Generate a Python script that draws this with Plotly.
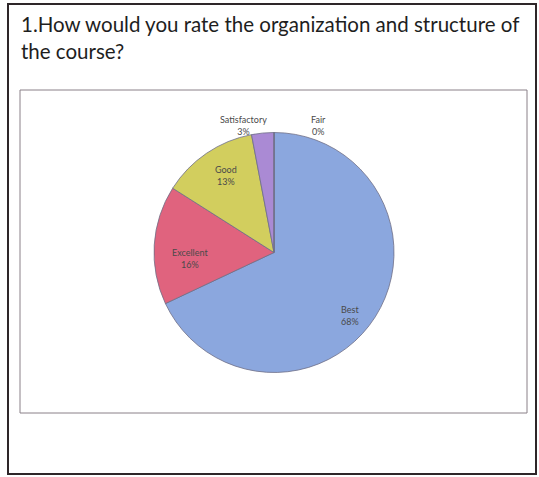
import plotly.graph_objects as go

# Survey answers
ratings = ["Best", "Excellent", "Good", "Satisfactory", "Fair"]
shares = [68, 16, 13, 3, 0]
slice_colors = ["#8BA7DE", "#E0637E", "#D2CE5E", "#AA8AD4", "#9BBB59"]

question = "1.How would you rate the organization and structure of<br>the course?"

W, H = 539, 477

fig = go.Figure(
    go.Pie(
        labels=ratings,
        values=shares,
        sort=False,
        direction="clockwise",
        rotation=0,
        textinfo="none",
        hoverinfo="label+percent",
        marker=dict(colors=slice_colors, line=dict(color="#6f6f86", width=0.8)),
        domain=dict(x=[154 / W, 394 / W], y=[1 - 374 / H, 1 - 131 / H]),
        showlegend=False,
    )
)

# label placement (pixel positions in the page), text comes from the data
label_pos = {
    "Best": (350, 315),
    "Excellent": (190, 258),
    "Good": (226, 175),
    "Satisfactory": (243, 112),
    "Fair": (318, 112),
}
annotations = []
for name, val in zip(ratings, shares):
    px_x, px_y = label_pos[name]
    annotations.append(
        dict(
            x=px_x / W,
            y=1 - px_y / H,
            xref="paper",
            yref="paper",
            text=f"{name}<br>{val}%",
            showarrow=False,
            font=dict(family="Lato", size=9, color="#4a4a4a"),
            align="center",
        )
    )

annotations.append(
    dict(
        x=19 / W,
        y=1 - 10 / H,
        xref="paper",
        yref="paper",
        xanchor="left",
        yanchor="top",
        align="left",
        text=question,
        showarrow=False,
        font=dict(family="Lato", size=20.5, color="#1e1e1e"),
    )
)


def box(x0, y0, x1, y1, color, width):
    return dict(
        type="rect",
        xref="paper",
        yref="paper",
        x0=x0 / W,
        x1=x1 / W,
        y0=1 - y1 / H,
        y1=1 - y0 / H,
        line=dict(color=color, width=width),
        fillcolor="rgba(0,0,0,0)",
    )


fig.update_layout(
    width=W,
    height=H,
    margin=dict(l=0, r=0, t=0, b=0),
    paper_bgcolor="white",
    plot_bgcolor="white",
    annotations=annotations,
    shapes=[
        box(8, 4, 536, 474, "#2e2629", 2),
        box(20, 90, 527, 413, "#8a8088", 1),
    ],
)

# drop the default 8px body margin so the figure sits at the page corner
fig.write_html(
    "out.html",
    config={"displayModeBar": False},
    post_script="document.body.style.margin='0';document.body.style.overflow='hidden';",
)
